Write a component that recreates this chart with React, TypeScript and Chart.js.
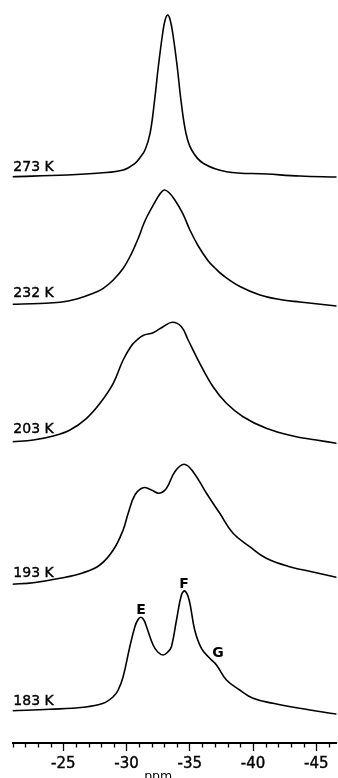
import React, { useEffect, useRef } from "react";
import { Chart, registerables } from "chart.js";

Chart.register(...registerables);

// ---------------- data (chemical shift in ppm, intensity in arbitrary units) ----------------
const temperatureLabels = ["273 K", "232 K", "203 K", "193 K", "183 K"];
// vertical stacking offset of each spectrum (intensity units)
const stackOffsets = [565, 438, 300, 159, 32];
// height of each temperature label above its spectrum baseline (intensity units)
const labelLevels = [7.3, 7.7, 10.3, 7.3, 6];
const labelPpm = -21.05;

const ppm273 = [-20.94, -25.29, -27.9, -29.74, -30.67, -31.07, -31.46, -31.86, -32.22, -32.51, -32.86, -33.05, -33.25, -33.43, -33.65, -34.01, -34.3, -34.7, -35.15, -36.06, -37.91, -41.1, -43.71, -46.6];
const int273 = [1.3, 3, 5, 8, 14.7, 20.5, 28, 44.7, 78, 111, 145, 158, 163, 159, 145, 111, 78, 44.7, 28, 14.7, 6.3, 4, 2, 1];

const ppm232 = [-20.94, -23.16, -24.74, -26.06, -27.37, -28.16, -28.95, -29.74, -30.4, -30.93, -31.32, -31.64, -32.25, -32.64, -32.98, -33.35, -33.82, -34.44, -35.01, -35.67, -36.46, -36.99, -37.65, -38.97, -40.55, -42.13, -43.71, -46.6];
const int232 = [0.7, 1.5, 2.7, 6, 11.7, 16.7, 25, 36.7, 51.7, 66.7, 80, 89, 103, 111, 115, 112.5, 105, 91.7, 75, 59, 44, 37, 29.5, 18.5, 10, 5.5, 3, -1];

const ppm203 = [-20.95, -22.63, -24.21, -25.53, -26.84, -27.9, -28.95, -29.73, -30.4, -30.82, -31.31, -32.1, -32.89, -33.63, -34.34, -34.87, -35.79, -36.84, -37.9, -39.21, -41.05, -43.16, -45.0, -46.58];
const int203 = [1.3, 3, 7, 13, 24.7, 39.7, 59.7, 83, 97.5, 103, 107.5, 110.3, 116.3, 120.7, 116.3, 103, 79.7, 56.3, 39.7, 26.3, 14.7, 7, 3, -0.3];

const ppm193 = [-20.92, -22.63, -24.74, -26.58, -27.89, -28.95, -29.73, -30.13, -30.66, -31.31, -31.97, -32.58, -33.16, -33.82, -34.55, -35.26, -36.32, -37.37, -38.42, -39.74, -41.05, -42.89, -45.0, -46.58];
const int193 = [-0.3, 1.3, 5.7, 11.3, 19, 34, 54, 70.7, 89, 96.3, 94, 90.7, 95.7, 112.3, 119.7, 112.3, 90.7, 70.7, 50.7, 37.3, 25.7, 17.3, 11.3, 6.7];

const ppm183 = [-20.92, -23.95, -26.58, -28.16, -28.95, -29.34, -29.73, -30.26, -30.66, -30.89, -31.13, -31.37, -31.58, -32.1, -32.47, -32.89, -33.26, -33.55, -33.95, -34.34, -34.61, -34.95, -35.39, -35.92, -36.58, -37.11, -37.9, -38.95, -40.0, -41.58, -43.68, -46.58];
const int183 = [0.3, 1.7, 3.7, 7.7, 14.3, 21, 34.3, 64.3, 84.3, 91, 93.7, 91, 84.3, 66, 59, 56, 59, 64.3, 91, 116, 120, 111, 81, 62.7, 52.7, 46, 31, 21, 12.7, 7.7, 2.7, -3];

// peak assignments on the 183 K spectrum
const peakNames = ["E", "F", "G"];
const peakPpm = [-31.15, -34.55, -37.23];
const peakLevels = [97, 122.7, 54.3];

// axis
const axisMin = -46.6;
const axisMax = -21;
const majorStep = 5;
const minorStep = 1;
const axisTitle = "ppm";
const axisTitlePpm = -32.5;

export default function App() {
  const ref = useRef<HTMLCanvasElement>(null);

  useEffect(() => {
    if (!ref.current) return;
    const spectra: [number[], number[]][] = [
      [ppm273, int273],
      [ppm232, int232],
      [ppm203, int203],
      [ppm193, int193],
      [ppm183, int183],
    ];
    const datasets = spectra.map(([xs, ys], k) => ({
      label: temperatureLabels[k],
      data: xs.map((x, i) => ({ x, y: stackOffsets[k] + ys[i] })),
      borderColor: "#000",
      borderWidth: 1.6,
      pointRadius: 0,
      fill: false,
      tension: 0.4,
      borderJoinStyle: "round" as const,
      borderCapStyle: "round" as const,
    }));

    const annotate = {
      id: "annotate",
      afterDraw(chart: any) {
        const { ctx, chartArea } = chart;
        const xs = chart.scales.x;
        const ys = chart.scales.y;
        ctx.save();
        // minor ticks
        ctx.strokeStyle = "#000";
        ctx.lineWidth = 1.3;
        xs.ticks.forEach((t: any) => {
          if (Math.abs(t.value % majorStep) > 1e-6) {
            const px = Math.round(xs.getPixelForValue(t.value)) + 0.5;
            ctx.beginPath();
            ctx.moveTo(px, chartArea.bottom);
            ctx.lineTo(px, chartArea.bottom + 4.5);
            ctx.stroke();
          }
        });
        ctx.fillStyle = "#000";
        ctx.strokeStyle = "#000";
        // temperature labels
        ctx.font = "14px 'DejaVu Sans'";
        ctx.textAlign = "left";
        ctx.textBaseline = "alphabetic";
        ctx.lineWidth = 0.4;
        temperatureLabels.forEach((lab, k) => {
          const px = xs.getPixelForValue(labelPpm);
          const py = ys.getPixelForValue(stackOffsets[k] + labelLevels[k]);
          ctx.fillText(lab, px, py);
          ctx.strokeText(lab, px, py);
        });
        // peak labels
        ctx.font = "bold 14px 'DejaVu Sans'";
        ctx.textAlign = "center";
        peakNames.forEach((n, i) => {
          ctx.fillText(n, xs.getPixelForValue(peakPpm[i]), ys.getPixelForValue(stackOffsets[4] + peakLevels[i]));
        });
        // axis title
        ctx.font = "12.5px 'DejaVu Sans'";
        ctx.fillText(axisTitle, xs.getPixelForValue(axisTitlePpm), chartArea.bottom + 37);
        ctx.restore();
      },
    };

    const chart = new Chart(ref.current, {
      type: "line",
      data: { datasets },
      options: {
        animation: false,
        responsive: false,
        events: [],
        layout: { padding: { left: 12.7, right: 1.5, top: 0, bottom: 0 } },
        plugins: { legend: { display: false }, tooltip: { enabled: false } },
        scales: {
          x: {
            type: "linear",
            min: axisMin,
            max: axisMax,
            reverse: true,
            afterFit: (s: any) => {
              s.height = 35;
            },
            grid: {
              display: true,
              drawOnChartArea: false,
              drawTicks: true,
              tickLength: 8,
              tickWidth: 1.3,
              tickColor: (c: any) =>
                c.tick && Math.abs(c.tick.value % majorStep) < 1e-6 ? "#000" : "rgba(0,0,0,0)",
            },
            border: { display: true, color: "#000", width: 2 },
            ticks: {
              stepSize: minorStep,
              includeBounds: false,
              autoSkip: false,
              maxRotation: 0,
              padding: 4,
              color: "#000",
              textStrokeColor: "#000",
              textStrokeWidth: 0.4,
              font: { family: "'DejaVu Sans'", size: 15 },
              callback: (v: any) => (Math.abs(Number(v) % majorStep) < 1e-6 ? String(v) : ""),
            },
          },
          y: { display: false, min: 0, max: 743 },
        },
      },
      plugins: [annotate],
    });
    return () => chart.destroy();
  }, []);

  return (
    <div style={{ position: "absolute", left: 0, top: 0, width: 338, height: 778, background: "#fff" }}>
      <canvas ref={ref} width={338} height={778} style={{ display: "block" }} />
    </div>
  );
}
